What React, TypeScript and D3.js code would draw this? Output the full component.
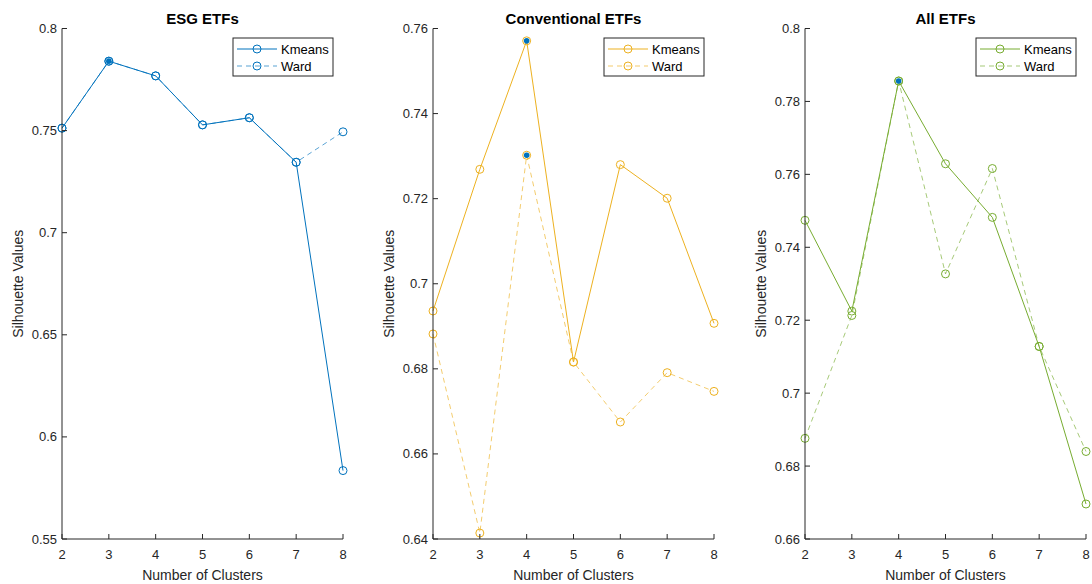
import React from "react";
import * as d3 from "d3";

// number of clusters
const clusters = [2, 3, 4, 5, 6, 7, 8];

// silhouette values
const esgKmeans = [0.7512, 0.784, 0.7768, 0.7528, 0.7563, 0.7345, 0.5835];
const esgWard = [0.7512, 0.784, 0.7768, 0.7528, 0.7563, 0.7345, 0.7494];
const convKmeans = [0.6936, 0.7269, 0.7571, 0.6816, 0.728, 0.7201, 0.6907];
const convWard = [0.6882, 0.6414, 0.7302, 0.6816, 0.6675, 0.6791, 0.6747];
const allKmeans = [0.7474, 0.7225, 0.7856, 0.7629, 0.7482, 0.7128, 0.6696];
const allWard = [0.6876, 0.7213, 0.7856, 0.7327, 0.7616, 0.7128, 0.684];

const esgTicks = [0.55, 0.6, 0.65, 0.7, 0.75, 0.8];
const convTicks = [0.64, 0.66, 0.68, 0.7, 0.72, 0.74, 0.76];
const allTicks = [0.66, 0.68, 0.7, 0.72, 0.74, 0.76, 0.78, 0.8];

// best points highlighted with a filled blue dot
const esgBest = [{ k: 3, v: 0.784 }];
const convBest = [{ k: 4, v: 0.7571 }, { k: 4, v: 0.7302 }];
const allBest = [{ k: 4, v: 0.7856 }];

const FONT = "Liberation Sans, Arial, Helvetica, sans-serif";
const INK = "#262626";
const TOP = 28.5;
const BOTTOM = 539;
const W = 281;

type PanelProps = {
  left: number;
  title: string;
  color: string;
  kmeans: number[];
  ward: number[];
  ticks: number[];
  best: { k: number; v: number }[];
};

const Panel = ({ left, title, color, kmeans, ward, ticks, best }: PanelProps) => {
  const x = d3.scaleLinear().domain([2, 8]).range([left, left + W]);
  const y = d3
    .scaleLinear()
    .domain([ticks[0], ticks[ticks.length - 1]])
    .range([BOTTOM, TOP]);
  const line = d3
    .line<number>()
    .x((d, i) => x(clusters[i]))
    .y((d) => y(d));

  const lx = left + W - 110; // legend box left
  const ly = 38;

  return (
    <g>
      <text x={left + W / 2} y={23.5} textAnchor="middle" fontWeight="bold" fontSize={15} fill="#000">
        {title}
      </text>

      {/* series */}
      <path d={line(ward) || ""} fill="none" stroke={color} strokeOpacity={0.65} strokeWidth={1} strokeDasharray="5,4" />
      <path d={line(kmeans) || ""} fill="none" stroke={color} strokeWidth={1} />
      {ward.map((v, i) => (
        <circle key={"w" + i} cx={x(clusters[i])} cy={y(v)} r={4} fill="none" stroke={color} strokeWidth={1} />
      ))}
      {kmeans.map((v, i) => (
        <circle key={"k" + i} cx={x(clusters[i])} cy={y(v)} r={4} fill="none" stroke={color} strokeWidth={1} />
      ))}
      {best.map((b, i) => (
        <circle key={"b" + i} cx={x(b.k)} cy={y(b.v)} r={2.8} fill="#0072BD" />
      ))}

      {/* axes */}
      <line x1={left} x2={left} y1={TOP} y2={BOTTOM} stroke={INK} />
      <line x1={left} x2={left + W} y1={BOTTOM} y2={BOTTOM} stroke={INK} />
      {ticks.map((t) => (
        <g key={"y" + t}>
          <line x1={left} x2={left + 5} y1={y(t)} y2={y(t)} stroke={INK} />
          <text x={left - 5} y={y(t) + 4.5} textAnchor="end" fontSize={13} fill={INK}>
            {d3.format("~g")(t)}
          </text>
        </g>
      ))}
      {clusters.map((c) => (
        <g key={"x" + c}>
          <line x1={x(c)} x2={x(c)} y1={BOTTOM} y2={BOTTOM - 5} stroke={INK} />
          <text x={x(c)} y={559} textAnchor="middle" fontSize={13} fill={INK}>
            {c}
          </text>
        </g>
      ))}
      <text x={left + W / 2} y={580} textAnchor="middle" fontSize={14} fill={INK}>
        Number of Clusters
      </text>
      <text
        transform={`translate(${left - 39},${(TOP + BOTTOM) / 2}) rotate(-90)`}
        textAnchor="middle"
        fontSize={14}
        fill={INK}
      >
        Silhouette Values
      </text>

      {/* legend */}
      <rect x={lx} y={ly} width={100} height={38} fill="#fff" stroke={INK} strokeWidth={1} />
      <line x1={lx + 4} x2={lx + 44} y1={ly + 11} y2={ly + 11} stroke={color} />
      <circle cx={lx + 24} cy={ly + 11} r={4} fill="none" stroke={color} />
      <text x={lx + 48} y={ly + 15.5} fontSize={13} fill="#000">
        Kmeans
      </text>
      <line x1={lx + 4} x2={lx + 44} y1={ly + 28} y2={ly + 28} stroke={color} strokeOpacity={0.65} strokeDasharray="5,4" />
      <circle cx={lx + 24} cy={ly + 28} r={4} fill="none" stroke={color} />
      <text x={lx + 48} y={ly + 32.5} fontSize={13} fill="#000">
        Ward
      </text>
    </g>
  );
};

const App = () => (
  <svg
    width={1092}
    height={584}
    style={{ position: "absolute", left: 0, top: 0, background: "#fff" }}
    fontFamily={FONT}
  >
    <Panel left={62} title="ESG ETFs" color="#0072BD" kmeans={esgKmeans} ward={esgWard} ticks={esgTicks} best={esgBest} />
    <Panel left={433} title="Conventional ETFs" color="#EDB120" kmeans={convKmeans} ward={convWard} ticks={convTicks} best={convBest} />
    <Panel left={805} title="All ETFs" color="#77AC30" kmeans={allKmeans} ward={allWard} ticks={allTicks} best={allBest} />
  </svg>
);

export default App;
